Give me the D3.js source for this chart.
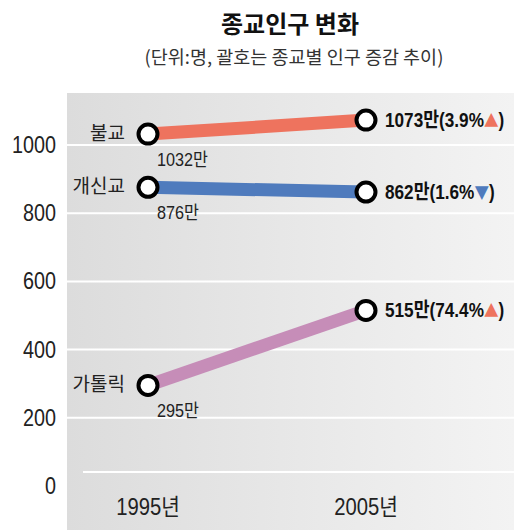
<!DOCTYPE html>
<html>
<head>
<meta charset="utf-8">
<script src="https://cdn.jsdelivr.net/npm/d3@7"></script>
<style>
  body { margin: 0; background: #fff; }
  svg { display: block; }
  text { font-family: "Liberation Sans", "Noto Sans CJK KR", sans-serif; }
  .kr { font-family: "Noto Sans CJK KR", sans-serif; }
</style>
</head>
<body>
<svg></svg>
<script>
width = 514;
height = 530;

years = ['1995년', '2005년'];
religions = ['불교', '개신교', '가톨릭'];
values1995 = [1032, 876, 295];
values2005 = [1073, 862, 515];
changes = ['3.9%', '1.6%', '74.4%'];
directions = ['up', 'down', 'up'];
colors = ['#ee735e', '#4f7bbd', '#c68db8'];
yTicks = [0, 200, 400, 600, 800, 1000];

svg = d3.select('svg')
  .attr('width', width)
  .attr('height', height);

defs = svg.append('defs');
grad = defs.append('linearGradient').attr('id', 'bg')
  .attr('x1', '0%').attr('x2', '100%').attr('y1', '0%').attr('y2', '0%');
grad.append('stop').attr('offset', '0%').attr('stop-color', '#dcdcdc');
grad.append('stop').attr('offset', '100%').attr('stop-color', '#f3f3f3');

svg.append('rect')
  .attr('x', 67).attr('y', 93)
  .attr('width', width - 67).attr('height', height - 93)
  .attr('fill', 'url(#bg)');

// title
svg.append('text')
  .attr('class', 'kr')
  .attr('x', 290).attr('y', 33)
  .attr('text-anchor', 'middle')
  .attr('font-size', 24).attr('font-weight', 'bold')
  .attr('fill', '#111')
  .text('종교인구 변화');
svg.append('text')
  .attr('class', 'kr')
  .attr('x', 294).attr('y', 64)
  .attr('text-anchor', 'middle')
  .attr('font-size', 18.5)
  .attr('fill', '#333')
  .text('(단위:명, 괄호는 종교별 인구 증감 추이)');

x = d3.scalePoint().domain(years).range([148, 366]);
y = d3.scaleLinear().domain([0, 1000]).range([486, 145]);

// condensed text placement
narrow = (px, py, s) => `translate(${px},${py}) scale(${s},1)`;

// grid
svg.selectAll('.grid')
  .data(yTicks.filter(d => d > 0))
  .enter().append('line')
  .attr('x1', 67).attr('x2', width)
  .attr('y1', d => y(d)).attr('y2', d => y(d))
  .attr('stroke', '#fff').attr('stroke-width', 2);
svg.append('line')
  .attr('x1', 83).attr('x2', width)
  .attr('y1', 472).attr('y2', 472)
  .attr('stroke', '#fff').attr('stroke-width', 2);

// y tick labels
svg.selectAll('.ytick')
  .data(yTicks)
  .enter().append('text')
  .attr('transform', d => narrow(56, y(d) + 8, 0.86))
  .attr('text-anchor', 'end')
  .attr('font-size', 23)
  .attr('fill', '#222')
  .text(d => d);

// x labels
svg.selectAll('.xtick')
  .data(years)
  .enter().append('text')
  .attr('transform', d => narrow(x(d), 515, 0.88))
  .attr('text-anchor', 'middle')
  .attr('font-size', 23)
  .attr('fill', '#222')
  .text(d => d);

data = religions.map((r, i) => ({
  name: r, v1: values1995[i], v2: values2005[i],
  change: changes[i], dir: directions[i], color: colors[i]
}));

g = svg.selectAll('.series').data(data).enter().append('g');

g.append('line')
  .attr('x1', x(years[0])).attr('x2', x(years[1]))
  .attr('y1', d => y(d.v1)).attr('y2', d => y(d.v2))
  .attr('stroke', d => d.color).attr('stroke-width', 13);

g.append('circle')
  .attr('cx', x(years[0])).attr('cy', d => y(d.v1))
  .attr('r', 9.5).attr('fill', '#fff')
  .attr('stroke', '#000').attr('stroke-width', 4);
g.append('circle')
  .attr('cx', x(years[1])).attr('cy', d => y(d.v2))
  .attr('r', 9.5).attr('fill', '#fff')
  .attr('stroke', '#000').attr('stroke-width', 4);

// names
g.append('text')
  .attr('class', 'kr')
  .attr('x', 125)
  .attr('y', d => y(d.v1) + 6)
  .attr('text-anchor', 'end')
  .attr('font-size', 19)
  .attr('fill', '#222')
  .text(d => d.name);

// 1995 values
g.append('text')
  .attr('transform', d => narrow(157, y(d.v1) + 32, 0.9))
  .attr('font-size', 18)
  .attr('fill', '#222')
  .text(d => d.v1 + '만');

// 2005 values
lbl = g.append('text')
  .attr('transform', d => narrow(385, y(d.v2) + 7, 0.86))
  .attr('font-size', 20)
  .attr('font-weight', 'bold')
  .attr('fill', '#111');
lbl.append('tspan').text(d => d.v2 + '만(' + d.change);
lbl.append('tspan')
  .attr('class', 'kr')
  .attr('fill', d => d.dir === 'up' ? '#ee735e' : '#4f7bbd')
  .attr('font-size', 17)
  .text(d => d.dir === 'up' ? '▲' : '▼');
lbl.append('tspan').text(')');
</script>
</body>
</html>
